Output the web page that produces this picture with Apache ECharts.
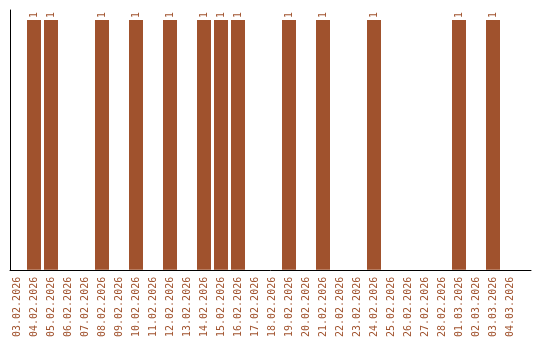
<!DOCTYPE html>
<html>
<head>
<meta charset="utf-8">
<script src="https://cdn.jsdelivr.net/npm/echarts@6/dist/echarts.min.js"></script>
<style>
html,body{margin:0;padding:0;background:#fff;}
#c{width:540px;height:340px;}
</style>
</head>
<body>
<div id="c"></div>
<script>
var categories = ["03.02.2026","04.02.2026","05.02.2026","06.02.2026","07.02.2026","08.02.2026","09.02.2026","10.02.2026","11.02.2026","12.02.2026","13.02.2026","14.02.2026","15.02.2026","16.02.2026","17.02.2026","18.02.2026","19.02.2026","20.02.2026","21.02.2026","22.02.2026","23.02.2026","24.02.2026","25.02.2026","26.02.2026","27.02.2026","28.02.2026","01.03.2026","02.03.2026","03.03.2026","04.03.2026"];
var counts = [0,1,1,0,0,1,0,1,0,1,0,1,1,1,0,0,1,0,1,0,0,1,0,0,0,0,1,0,1,0];

var barColor = '#a0522d';
var chart = echarts.init(document.getElementById('c'), null, {renderer: 'canvas'});
chart.setOption({
  animation: false,
  backgroundColor: '#fff',
  grid: [
    {left: 8.5, width: 510, top: 10, bottom: 70},
    {left: 10, right: 9, top: 10, bottom: 70}
  ],
  xAxis: [
    {
      type: 'category', gridIndex: 0, data: categories,
      axisLine: {show: false}, axisTick: {show: false},
      axisLabel: {interval: 0, rotate: 90, margin: 7, color: barColor,
        fontFamily: 'DejaVu Sans Mono', fontSize: 10}
    },
    {
      type: 'value', gridIndex: 1, min: 0, max: 1,
      axisLine: {show: true, lineStyle: {color: '#000', width: 1}},
      axisTick: {show: false}, axisLabel: {show: false}, splitLine: {show: false}
    }
  ],
  yAxis: [
    {
      type: 'value', gridIndex: 0, min: 0, max: 1.04,
      axisLine: {show: false}, axisTick: {show: false},
      axisLabel: {show: false}, splitLine: {show: false}
    },
    {
      type: 'value', gridIndex: 1, min: 0, max: 1,
      axisLine: {show: true, lineStyle: {color: '#000', width: 1}},
      axisTick: {show: false}, axisLabel: {show: false}, splitLine: {show: false}
    }
  ],
  series: [{
    type: 'bar', xAxisIndex: 0, yAxisIndex: 0,
    data: counts.map(function(v){ return v === 0 ? null : v; }),
    barWidth: 14,
    itemStyle: {color: barColor},
    label: {
      show: true, position: 'top', distance: 2, rotate: 90,
      align: 'left', verticalAlign: 'middle',
      color: barColor, fontFamily: 'DejaVu Sans Mono', fontSize: 10
    }
  }]
});
</script>
</body>
</html>
